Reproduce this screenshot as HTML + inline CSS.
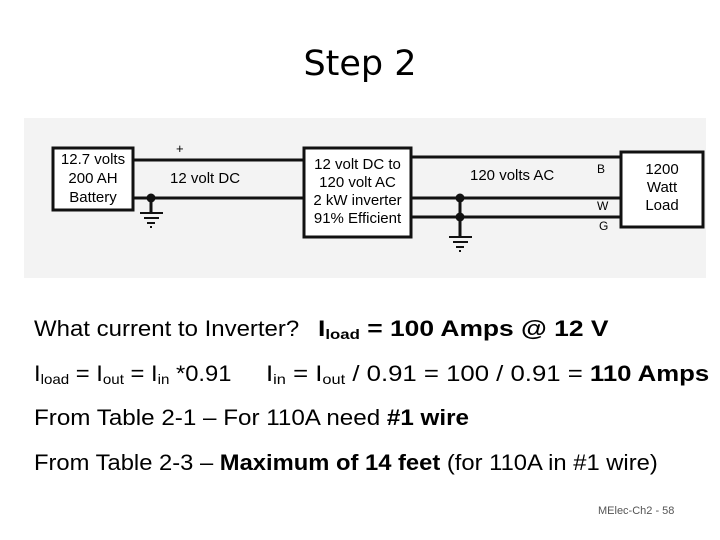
<!DOCTYPE html>
<html><head><meta charset="utf-8"><style>
body{margin:0;width:720px;height:540px;background:#fff;position:relative;font-family:"Liberation Sans",sans-serif;overflow:hidden}
.t{position:absolute;white-space:nowrap;color:#000;transform-origin:0 0}
sub{font-size:14px;vertical-align:-3px}
</style></head><body>
<div class="t" style="left:0;width:720px;text-align:center;top:44px;font-family:'DejaVu Sans',sans-serif;font-size:35px">Step 2</div>
<svg width="720" height="540" style="position:absolute;left:0;top:0">
<rect x="24" y="118" width="682" height="160" fill="#f3f3f3"/>
<g stroke="#111" stroke-width="3" fill="#fff">
<rect x="53" y="148" width="80" height="62"/>
<rect x="304" y="148" width="107" height="89"/>
<rect x="621" y="152" width="82" height="75"/>
</g>
<g stroke="#111" stroke-width="3">
<line x1="133" y1="160" x2="304" y2="160"/>
<line x1="133" y1="198" x2="304" y2="198"/>
<line x1="411" y1="157" x2="621" y2="157"/>
<line x1="411" y1="198" x2="621" y2="198"/>
<line x1="411" y1="217" x2="621" y2="217"/>
<line x1="151" y1="198" x2="151" y2="212"/>
<line x1="460" y1="198" x2="460" y2="236"/>
</g>
<g stroke="#111" stroke-width="2">
<line x1="140" y1="213" x2="163" y2="213"/><line x1="144" y1="218" x2="159" y2="218"/><line x1="147" y1="223" x2="155" y2="223"/><line x1="150" y1="227" x2="152" y2="227"/>
<line x1="449" y1="237" x2="472" y2="237"/><line x1="453" y1="242" x2="468" y2="242"/><line x1="456" y1="247" x2="464" y2="247"/><line x1="459" y1="251" x2="461" y2="251"/>
</g>
<circle cx="151" cy="198" r="4.5" fill="#111"/>
<circle cx="460" cy="198" r="4.5" fill="#111"/>
<circle cx="460" cy="217" r="4.5" fill="#111"/>
</svg>
<div class="t" style="left:53px;width:80px;text-align:center;top:150px;font-size:15px;line-height:19px">12.7 volts<br>200 AH<br>Battery</div>
<div class="t" style="left:304px;width:107px;text-align:center;top:156px;font-size:15px;line-height:18px">12 volt DC to<br>120 volt AC<br>2 kW inverter<br>91% Efficient</div>
<div class="t" style="left:621px;width:82px;text-align:center;top:161px;font-size:15px;line-height:18px">1200<br>Watt<br>Load</div>
<div class="t" style="left:176px;top:141px;font-size:13px">+</div>
<div class="t" style="left:170px;top:170px;font-size:15px">12 volt DC</div>
<div class="t" style="left:470px;top:167px;font-size:15px">120 volts AC</div>
<div class="t" style="left:597px;top:162px;font-size:12px">B</div>
<div class="t" style="left:597px;top:199px;font-size:12px">W</div>
<div class="t" style="left:599px;top:219px;font-size:12px">G</div>
<div class="t" style="left:34px;top:316px;font-size:22px;transform:scaleX(1.09)">What current to Inverter?</div>
<div class="t" style="left:318px;top:316px;font-size:22px;font-weight:bold;transform:scaleX(1.2)">I<sub>load</sub> = 100 Amps @ 12 V</div>
<div class="t" style="left:34px;top:361px;font-size:22px;transform:scaleX(1.08)">I<sub>load</sub> = I<sub>out</sub> = I<sub>in</sub> *0.91</div>
<div class="t" style="left:266px;top:361px;font-size:22px;transform:scaleX(1.17)">I<sub>in</sub> = I<sub>out</sub> / 0.91 = 100 / 0.91 = <b>110 Amps</b></div>
<div class="t" style="left:34px;top:405px;font-size:22px;transform:scaleX(1.1)">From Table 2-1 – For 110A need <b>#1 wire</b></div>
<div class="t" style="left:34px;top:450px;font-size:22px;transform:scaleX(1.08)">From Table 2-3 – <b>Maximum of 14 feet</b> (for 110A in #1 wire)</div>
<div class="t" style="left:598px;top:505px;font-size:11px;color:#555">MElec-Ch2 - 58</div>
</body></html>
